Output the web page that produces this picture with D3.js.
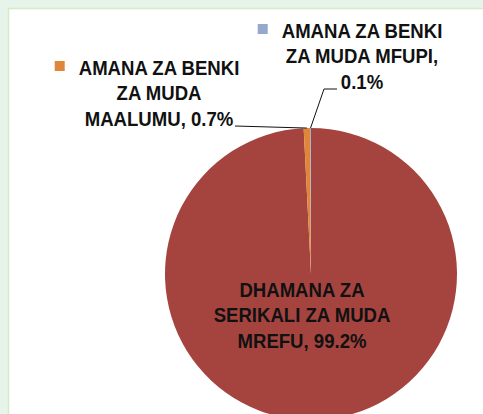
<!DOCTYPE html>
<html>
<head>
<meta charset="utf-8">
<script src="https://d3js.org/d3.v7.min.js"></script>
<style>
    body { margin: 0; padding: 0; background: #fff; }
    svg { display: block; }
    text { font-family: "Liberation Sans", Arial, sans-serif; font-weight: bold; fill: #111; }
</style>
</head>
<body>
<script>
// data
var categories = ["DHAMANA ZA SERIKALI ZA MUDA MREFU", "AMANA ZA BENKI ZA MUDA MAALUMU", "AMANA ZA BENKI ZA MUDA MFUPI"];
var values = [99.2, 0.7, 0.1];
var colours = ["#A5443F", "#E0863A", "#94A9CB"];
// how each data label is broken into lines (last line gets the percent)
var labelLines = [
    ["DHAMANA ZA", "SERIKALI ZA MUDA", "MREFU,"],
    ["AMANA ZA BENKI", "ZA MUDA", "MAALUMU,"],
    ["AMANA ZA BENKI", "ZA MUDA MFUPI,", ""]
];

// dimensions
var width = 483;
var height = 414;

var svg = d3.select("body")
    .append("svg")
    .attr("width", width)
    .attr("height", height);

// light green frame around the white chart area
svg.append("rect")
    .attr("width", width)
    .attr("height", height)
    .attr("fill", "#E7F4E9");

svg.append("rect")
    .attr("x", 8.5)
    .attr("y", 8.5)
    .attr("width", width)
    .attr("height", height)
    .attr("fill", "#fff")
    .attr("stroke", "#D3EACB")
    .attr("stroke-width", 1.5);

var cx = 311;
var cy = 274;
var radius = 146;
var squeeze = 0.885;

var pie = d3.pie()
    .sort(null)
    .value(function(d) { return d; });

var arc = d3.arc()
    .innerRadius(0)
    .outerRadius(radius);

var arcs = pie(values);

var g = svg.append("g")
    .attr("transform", "translate(" + cx + "," + cy + ")");

g.selectAll(".slice")
    .data(arcs)
    .enter()
    .append("path")
    .attr("class", "slice")
    .attr("d", arc)
    .attr("fill", function(d, i) { return colours[i]; })
    .attr("stroke", "none");

// label placement (relative to pie centre) and leader line bends
var labelPos = [
    { x: -9, y: 23, key: false },
    { x: -152, y: -199, key: true, bend: [[-76, -148]] },
    { x: 51, y: -236, key: true, bend: [[13, -185], [26, -185]] }
];

function edgePoint(d) {
    var a = (d.startAngle + d.endAngle) / 2;
    return [radius * Math.sin(a), -radius * Math.cos(a)];
}

// leader lines for the small slices
arcs.forEach(function(d, i) {
    var p = labelPos[i];
    if (!p.bend) return;
    var pts = [edgePoint(d)].concat(p.bend);
    g.append("path")
        .attr("d", d3.line()(pts))
        .attr("fill", "none")
        .attr("stroke", "#111")
        .attr("stroke-width", 1);
});

var lineH = 25.5;

arcs.forEach(function(d, i) {
    var p = labelPos[i];
    var lines = labelLines[i].slice();
    var pct = d3.format(".1f")(values[i]) + "%";
    var last = lines.length - 1;
    lines[last] = lines[last] ? lines[last] + " " + pct : pct;

    var lab = g.append("g")
        .attr("transform", "translate(" + p.x + "," + p.y + ") scale(" + squeeze + ",1)");

    lab.selectAll("text")
        .data(lines)
        .enter()
        .append("text")
        .attr("x", 0)
        .attr("y", function(t, j) { return j * lineH; })
        .attr("text-anchor", "middle")
        .style("font-size", "21px")
        .text(function(t) { return t; });

    // legend key square in front of the first line
    if (p.key) {
        var w = lab.select("text").node().getComputedTextLength() * squeeze;
        g.append("rect")
            .attr("x", p.x - w / 2 - 24)
            .attr("y", p.y - 14)
            .attr("width", 10)
            .attr("height", 10)
            .attr("fill", colours[i]);
    }
});
</script>
</body>
</html>
